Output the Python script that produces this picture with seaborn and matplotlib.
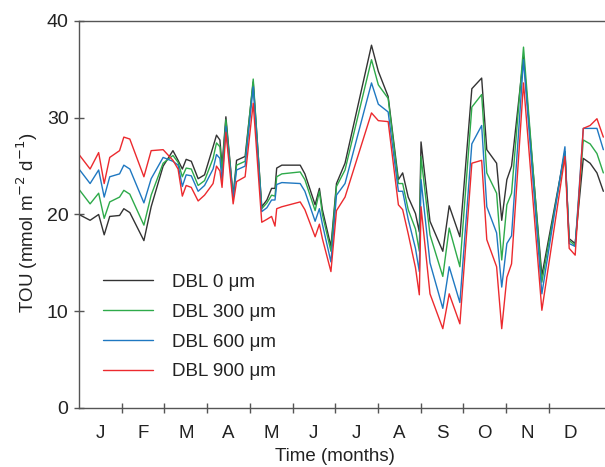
import numpy as np
import pandas as pd
import seaborn as sns
import matplotlib.pyplot as plt

################################################################################
# data, time in months since 1 Jan

month_labels = ['J', 'F', 'M', 'A', 'M', 'J', 'J', 'A', 'S', 'O', 'N', 'D']

t_month = [0.00, 0.26, 0.46, 0.59, 0.72, 0.95, 1.05, 1.19, 1.52, 1.69,
           1.97, 2.20, 2.32, 2.42, 2.51, 2.63, 2.79, 2.94, 3.14, 3.22,
           3.30, 3.35, 3.44, 3.61, 3.69, 3.89, 4.08, 4.28, 4.40, 4.51,
           4.59, 4.63, 4.75, 5.18, 5.29, 5.53, 5.63, 5.70, 5.90, 6.03,
           6.23, 6.85, 7.01, 7.24, 7.48, 7.58, 7.71, 7.88, 7.97, 8.01,
           8.22, 8.52, 8.67, 8.92, 9.20, 9.43, 9.55, 9.78, 9.90, 10.02,
           10.13, 10.41, 10.84, 11.38, 11.48, 11.62, 11.81, 11.97, 12.13, 12.28]

tou_0 = [20.0, 19.4, 20.0, 17.9, 19.8, 19.9, 20.6, 20.2, 17.3, 20.8,
         25.0, 26.6, 25.6, 24.7, 25.7, 25.5, 23.7, 24.1, 27.0, 28.2,
         27.7, 25.0, 30.1, 21.9, 25.6, 26.0, 33.7, 20.8, 21.5, 22.7,
         22.7, 24.8, 25.1, 25.1, 24.2, 21.0, 22.7, 20.5, 16.7, 23.2,
         25.3, 37.5, 34.8, 32.2, 23.6, 24.3, 21.8, 20.1, 18.2, 27.5,
         19.3, 16.2, 20.9, 17.7, 33.0, 34.1, 26.7, 25.3, 19.4, 23.6,
         25.0, 36.3, 13.7, 26.5, 17.5, 17.0, 25.8, 25.3, 24.3, 22.4]

tou_300 = [22.6, 21.1, 22.2, 19.6, 21.3, 21.8, 22.5, 22.1, 18.9, 22.0,
           25.3, 26.1, 25.4, 23.9, 24.8, 24.7, 23.0, 23.5, 25.8, 27.4,
           27.0, 24.5, 29.8, 21.8, 25.1, 25.5, 34.0, 20.6, 21.2, 22.0,
           21.9, 23.9, 24.2, 24.4, 23.6, 20.4, 22.4, 20.0, 16.2, 22.9,
           24.6, 36.0, 33.4, 32.0, 23.2, 23.2, 20.5, 18.5, 16.2, 26.0,
           17.9, 13.6, 18.6, 14.6, 31.1, 32.4, 24.3, 22.2, 15.3, 21.0,
           22.2, 37.3, 13.0, 26.5, 17.3, 16.8, 27.7, 27.3, 26.3, 24.3]

tou_600 = [24.7, 23.2, 24.6, 21.8, 23.9, 24.2, 25.1, 24.7, 21.2, 23.7,
           25.9, 25.5, 25.1, 22.9, 24.1, 24.0, 22.4, 23.0, 24.7, 26.2,
           25.8, 23.5, 29.1, 21.7, 24.6, 25.0, 33.2, 20.3, 20.7, 21.5,
           21.5, 23.1, 23.3, 23.2, 22.4, 19.3, 20.6, 19.0, 15.1, 22.0,
           23.2, 33.6, 31.4, 30.6, 22.4, 22.4, 19.5, 16.5, 14.1, 23.6,
           15.0, 10.3, 14.6, 10.9, 27.3, 29.2, 20.8, 18.1, 12.5, 17.0,
           17.8, 36.0, 11.8, 27.0, 17.0, 16.7, 28.9, 28.9, 28.9, 26.7]

tou_900 = [26.2, 24.7, 26.4, 23.2, 25.9, 26.6, 28.0, 27.8, 23.9, 26.6,
           26.7, 25.6, 24.7, 21.9, 23.0, 22.8, 21.4, 22.0, 23.2, 25.0,
           24.5, 22.8, 28.5, 21.1, 23.4, 23.9, 31.5, 19.2, 19.5, 19.8,
           18.8, 20.6, 20.8, 21.3, 20.5, 17.7, 19.0, 17.5, 14.1, 20.4,
           21.8, 30.5, 29.7, 29.6, 21.0, 20.5, 18.0, 14.5, 11.7, 20.8,
           11.8, 8.2, 11.8, 8.7, 25.3, 25.6, 17.4, 14.6, 8.2, 13.5,
           14.9, 33.6, 10.1, 26.0, 16.5, 15.8, 28.9, 29.2, 29.9, 28.0]

dbl_labels = ['DBL 0 \u03bcm', 'DBL 300 \u03bcm', 'DBL 600 \u03bcm', 'DBL 900 \u03bcm']
line_colors = ['#333333', '#2eaa4a', '#1f78c1', '#ec2a2e']

n = len(t_month)
df = pd.DataFrame({
    'month': t_month * 4,
    'TOU': tou_0 + tou_300 + tou_600 + tou_900,
    'DBL': [lab for lab in dbl_labels for _ in range(n)],
})

################################################################################
# plot

sns.set_style('ticks')
plt.rcParams['font.family'] = ['Liberation Sans', 'DejaVu Sans']
plt.rcParams['font.size'] = 13.5

W, H = 605, 467
fig = plt.figure(figsize=(W/100, H/100), dpi=100)
# axes: x=0 at px 79, 42.7 px per month, y 0..40 from px 408 to 21
ax = fig.add_axes([79/W, (H-408)/H, 12.4*42.7/W, 387/H])

sns.lineplot(data=df, x='month', y='TOU', hue='DBL', hue_order=dbl_labels,
             palette=line_colors, estimator=None, sort=False, linewidth=1.0, ax=ax)

ax.set_xlim(0, 12.4)
ax.set_ylim(0, 40)

ax.set_yticks([0, 10, 20, 30, 40])
ax.set_xticks(np.arange(1, 12))
ax.set_xticklabels([])
ax.set_xticks(np.arange(12) + 0.5, minor=True)
ax.set_xticklabels(month_labels, minor=True)
ax.tick_params(axis='both', which='major', direction='inout', length=6.5, width=1.0,
               color='#555555', labelcolor='#222222')
ax.tick_params(axis='y', which='major', pad=4.3, labelsize=14)
ax.tick_params(axis='x', which='minor', length=0, pad=12, labelsize=13.5, labelcolor='#222222')

for side in ['left', 'bottom', 'top', 'right']:
    ax.spines[side].set_color('#555555')
    ax.spines[side].set_linewidth(1.0)

ax.set_xlabel('Time (months)', fontsize=13.5, color='#222222')
ax.xaxis.set_label_coords(6.0/12.4, -0.104)
ax.set_ylabel('TOU (mmol m$^{-2}$ d$^{-1}$)', fontsize=13.5, color='#222222')
ax.yaxis.set_label_coords(-0.074, 0.478)

leg = ax.legend(loc='upper left', bbox_to_anchor=(0.045, 0.347), frameon=False,
                fontsize=13.5, handlelength=2.7, handletextpad=1.0, labelspacing=0.68,
                borderpad=0, borderaxespad=0)
for t in leg.get_texts():
    t.set_color('#222222')

fig.savefig('out.png', dpi=100)
